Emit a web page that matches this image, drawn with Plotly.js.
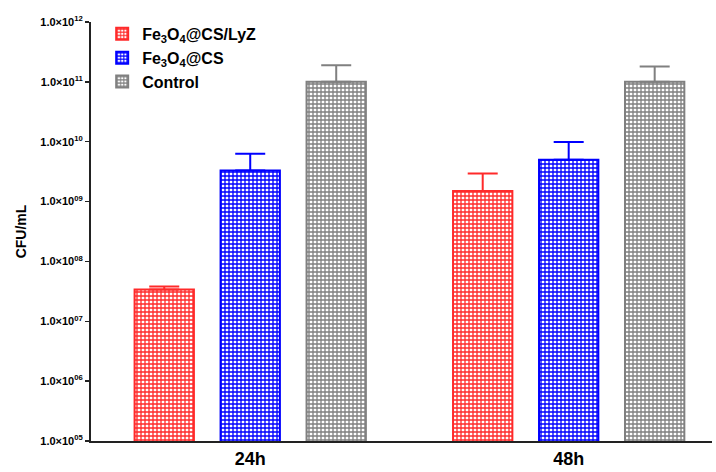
<!DOCTYPE html>
<html><head><meta charset="utf-8">
<script src="https://cdn.plot.ly/plotly-3.0.1.min.js"></script>
<style>body{margin:0;background:#fff}#c{width:716px;height:472px}</style>
</head><body><div id="c"></div>
<script>
const categories = ["24h", "48h"];
const seriesNames = ["Fe<sub>3</sub>O<sub>4</sub>@CS/LyZ", "Fe<sub>3</sub>O<sub>4</sub>@CS", "Control"];
const lyzValues = [3.4e7, 1.5e9];
const lyzErr = [0.4e7, 1.45e9];
const csValues = [3.3e9, 5.0e9];
const csErr = [3.0e9, 4.9e9];
const ctrlValues = [1.0e11, 1.0e11];
const ctrlErr = [0.9e11, 0.8e11];
const tickVals = [1e5, 1e6, 1e7, 1e8, 1e9, 1e10, 1e11, 1e12];
const tickText = ["1.0×10<sup>05</sup>", "1.0×10<sup>06</sup>", "1.0×10<sup>07</sup>", "1.0×10<sup>08</sup>", "1.0×10<sup>09</sup>", "1.0×10<sup>10</sup>", "1.0×10<sup>11</sup>", "1.0×10<sup>12</sup>"];

const colors = ["#ff2a2a", "#0000ff", "#808080"];
const vals = [lyzValues, csValues, ctrlValues];
const errs = [lyzErr, csErr, ctrlErr];

const traces = vals.map((v, i) => ({
  type: "bar",
  name: seriesNames[i],
  x: categories,
  y: v,
  marker: {
    color: "#ffffff",
    line: {color: colors[i], width: 2},
    pattern: {shape: "+", fgcolor: colors[i], bgcolor: "#ffffff", size: 4, solidity: 0.55, fillmode: "replace"}
  },
  error_y: {type: "data", symmetric: false, array: errs[i], arrayminus: [0, 0], color: colors[i], thickness: 2, width: 15}
}));

const layout = {
  width: 716, height: 472,
  margin: {l: 91, r: 4, t: 22, b: 31},
  paper_bgcolor: "#fff", plot_bgcolor: "#fff",
  font: {family: "Liberation Sans, Arial, sans-serif", color: "#000"},
  barmode: "group", bargap: 0.19, bargroupgap: 0.31,
  showlegend: true,
  legend: {x: 0.018, y: 1.012, xanchor: "left", yanchor: "top", font: {size: 16, family: "Liberation Sans, Arial", weight: "bold"}, tracegroupgap: 0, itemwidth: 30, bgcolor: "rgba(0,0,0,0)"},
  xaxis: {
    type: "category", range: [-0.5, 1.45],
    showline: true, linecolor: "#222", linewidth: 2, ticks: "",
    tickfont: {size: 18, family: "Liberation Sans, Arial", weight: "bold"},
    showgrid: false, zeroline: false
  },
  yaxis: {
    type: "log", range: [5, 12],
    tickvals: tickVals, ticktext: tickText,
    showline: true, linecolor: "#222", linewidth: 2,
    ticks: "outside", ticklen: 4, tickwidth: 1.5, tickcolor: "#222",
    tickfont: {size: 11, family: "Liberation Sans, Arial", weight: "bold"},
    showgrid: false, zeroline: false,
    title: {text: "CFU/mL", font: {size: 14, family: "Liberation Sans, Arial", weight: "bold"}, standoff: 10}
  }
};
Plotly.newPlot("c", traces, layout, {displayModeBar: false, staticPlot: true});
</script></body></html>
